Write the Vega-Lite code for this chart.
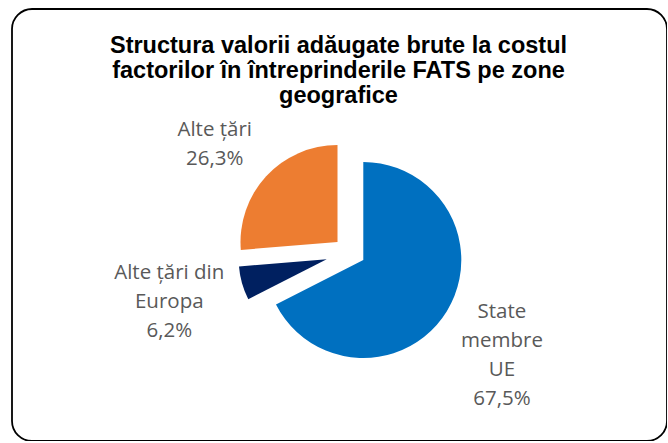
{
  "$schema": "https://vega.github.io/schema/vega-lite/v6.json",
  "width": 655,
  "height": 432,
  "autosize": {"type": "none"},
  "padding": {"left": 12, "top": 9, "right": 0, "bottom": 0},
  "background": "white",
  "config": {"view": {"stroke": null}},
  "title": {
    "text": ["Structura valorii adăugate brute la costul", "factorilor în întreprinderile FATS pe zone", "geografice"],
    "font": "Liberation Sans",
    "fontSize": 23.5,
    "fontWeight": "bold",
    "color": "#000000",
    "lineHeight": 25,
    "anchor": "middle",
    "offset": -99,
    "dx": -1
  },
  "data": {
    "values": [
      {"zona": "State membre UE", "valoare": 67.5, "ord": 1, "eticheta": "State\nmembre\nUE\n67,5%"},
      {"zona": "Alte țări din Europa", "valoare": 6.2, "ord": 2, "eticheta": "Alte țări din\nEuropa\n6,2%"},
      {"zona": "Alte țări", "valoare": 26.3, "ord": 3, "eticheta": "Alte țări\n26,3%"}
    ]
  },
  "transform": [
    {"stack": "valoare", "groupby": [], "sort": [{"field": "ord", "order": "ascending"}], "as": ["v0", "v1"]}
  ],
  "layer": [
    {
      "transform": [{"filter": "datum.ord === 1"}],
      "mark": {"type": "rect", "fill": "white", "stroke": "#000000", "strokeWidth": 1.8, "cornerRadius": 20},
      "encoding": {}
    },
    {
      "transform": [{"filter": "datum.ord === 1"}],
      "mark": {"type": "arc", "radius": 98, "xOffset": 23.8, "yOffset": 35, "color": "#0070C0"},
      "encoding": {
        "theta": {"field": "v0", "type": "quantitative", "scale": {"domain": [0, 100]}},
        "theta2": {"field": "v1"}
      }
    },
    {
      "transform": [{"filter": "datum.ord === 2"}],
      "mark": {"type": "arc", "radius": 88, "xOffset": -12.8, "yOffset": 34.3, "color": "#002060"},
      "encoding": {
        "theta": {"field": "v0", "type": "quantitative", "scale": {"domain": [0, 100]}},
        "theta2": {"field": "v1"}
      }
    },
    {
      "transform": [{"filter": "datum.ord === 3"}],
      "mark": {"type": "arc", "radius": 97, "xOffset": -2, "yOffset": 17, "color": "#ED7D31"},
      "encoding": {
        "theta": {"field": "v0", "type": "quantitative", "scale": {"domain": [0, 100]}},
        "theta2": {"field": "v1"}
      }
    },
    {
      "mark": {"type": "text", "radius": 187, "dx": 3, "dy": -5, "font": "Open Sans", "fontSize": 20.5, "color": "#595959", "align": "center", "baseline": "alphabetic", "lineHeight": 29, "lineBreak": "\n"},
      "encoding": {
        "theta": {"field": "valoare", "type": "quantitative", "stack": true, "scale": {"domain": [0, 100]}},
        "order": {"field": "ord"},
        "text": {"condition": {"test": "datum.ord === 1", "field": "eticheta", "type": "nominal"}, "value": ""}
      }
    },
    {
      "mark": {"type": "text", "radius": 178, "dx": 1, "dy": 5, "font": "Open Sans", "fontSize": 20.5, "color": "#595959", "align": "center", "baseline": "alphabetic", "lineHeight": 29, "lineBreak": "\n"},
      "encoding": {
        "theta": {"field": "valoare", "type": "quantitative", "stack": true, "scale": {"domain": [0, 100]}},
        "order": {"field": "ord"},
        "text": {"condition": {"test": "datum.ord === 2", "field": "eticheta", "type": "nominal"}, "value": ""}
      }
    },
    {
      "mark": {"type": "text", "radius": 152, "dx": -13, "dy": 14, "font": "Open Sans", "fontSize": 20.5, "color": "#595959", "align": "center", "baseline": "alphabetic", "lineHeight": 29, "lineBreak": "\n"},
      "encoding": {
        "theta": {"field": "valoare", "type": "quantitative", "stack": true, "scale": {"domain": [0, 100]}},
        "order": {"field": "ord"},
        "text": {"condition": {"test": "datum.ord === 3", "field": "eticheta", "type": "nominal"}, "value": ""}
      }
    }
  ]
}
